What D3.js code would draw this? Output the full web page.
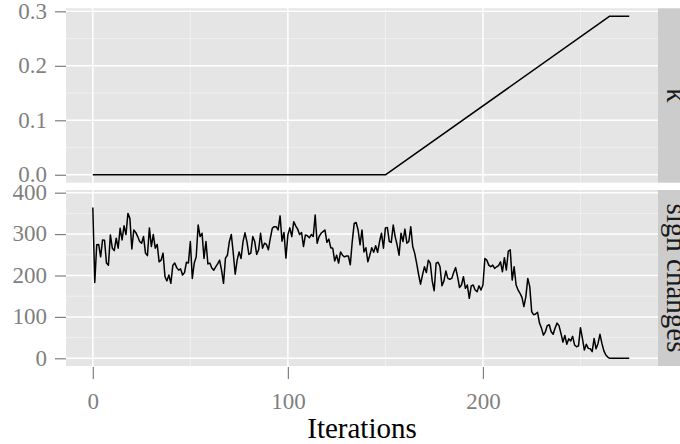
<!DOCTYPE html>
<html>
<head>
<meta charset="utf-8">
<script src="https://cdn.jsdelivr.net/npm/d3@7"></script>
<style>
  body { margin: 0; background: #fff; }
  text { font-family: "Liberation Serif", "DejaVu Serif", serif; }
</style>
</head>
<body>
<div id="container"></div>
<script>
// Data
const kappaIter = [0, 150, 265, 275];
const kappaValue = [0, 0, 0.291, 0.291];

// sign changes per iteration (index = iteration)
const signChanges = [
  364, 183, 274, 275, 245, 286, 285, 230, 225, 298,
  266, 260, 290, 266, 314, 286, 320, 299, 350, 338,
  264, 310, 304, 294, 282, 278, 294, 254, 248, 315,
  270, 299, 266, 275, 233, 237, 254, 197, 187, 201,
  181, 224, 230, 219, 213, 216, 201, 207, 232, 230,
  282, 193, 230, 245, 322, 294, 302, 241, 282, 228,
  230, 218, 213, 221, 228, 237, 213, 181, 242, 249,
  282, 299, 254, 203, 237, 257, 241, 282, 303, 282,
  251, 254, 294, 282, 251, 262, 302, 266, 278, 275,
  262, 290, 314, 318, 318, 310, 344, 283, 304, 242,
  298, 315, 294, 330, 320, 312, 299, 304, 270, 298,
  296, 291, 299, 294, 346, 278, 294, 302, 306, 310,
  280, 288, 267, 266, 235, 249, 230, 257, 249, 245,
  247, 247, 226, 282, 326, 328, 310, 274, 310, 257,
  267, 233, 249, 267, 256, 272, 256, 282, 302, 266,
  315, 316, 282, 280, 322, 294, 274, 249, 302, 282,
  312, 278, 282, 318, 270, 254, 230, 203, 179, 201,
  221, 207, 237, 230, 187, 163, 230, 232, 221, 175,
  187, 211, 193, 191, 193, 207, 219, 197, 171, 177,
  197, 169, 177, 145, 175, 177, 165, 161, 175, 165,
  177, 241, 237, 225, 221, 225, 217, 221, 224, 233,
  209, 243, 213, 259, 262, 189, 221, 177, 165, 157,
  147, 125, 149, 193, 173, 113, 105, 107, 111, 85,
  73, 56, 64, 79, 81, 64, 58, 73, 85, 79,
  60, 39, 55, 34, 47, 42, 53, 32, 28, 30,
  74, 48, 20, 34, 24, 23, 16, 48, 23, 36,
  58, 36, 18, 8, 3, 0, 0, 0, 0, 0,
  0, 0, 0, 0, 0, 0
];

const xTicks = [0, 100, 200];
const xMinor = [50, 150, 250];
const kappaTicks = [0, 0.1, 0.2, 0.3];
const kappaMinor = [0.05, 0.15, 0.25];
const signTicks = [0, 100, 200, 300, 400];
const signMinor = [50, 150, 250, 350];

const width = 680;
const height = 444;
const panelLeft = 66;
const panelRight = 658;

const svg = d3.select("#container")
  .append("svg")
  .attr("width", width)
  .attr("height", height);

const x = d3.scaleLinear()
  .domain([-13.75, 289.75])
  .range([panelLeft, panelRight]);

// Panels: one per facet
const panels = [
  {
    label: "κ",
    top: 8.3, bottom: 182.7,
    y: d3.scaleLinear().domain([-0.01455, 0.30555]).range([182.7, 8.3]),
    ticks: kappaTicks, minor: kappaMinor,
    format: d3.format(".1f"),
    points: kappaIter.map((d, i) => [d, kappaValue[i]])
  },
  {
    label: "sign changes",
    top: 190, bottom: 366,
    y: d3.scaleLinear().domain([-18.6, 406.5]).range([366, 190]),
    ticks: signTicks, minor: signMinor,
    format: d3.format("d"),
    points: signChanges.map((d, i) => [i, d])
  }
];

panels.forEach(p => {
  const g = svg.append("g");

  // background
  g.append("rect")
    .attr("x", panelLeft)
    .attr("y", p.top)
    .attr("width", panelRight - panelLeft)
    .attr("height", p.bottom - p.top)
    .attr("fill", "#e5e5e5");

  // minor grid
  g.selectAll(".minor-h")
    .data(p.minor)
    .enter()
    .append("line")
    .attr("x1", panelLeft).attr("x2", panelRight)
    .attr("y1", d => p.y(d)).attr("y2", d => p.y(d))
    .attr("stroke", "#f2f2f2")
    .attr("stroke-width", 0.8);

  g.selectAll(".minor-v")
    .data(xMinor)
    .enter()
    .append("line")
    .attr("x1", d => x(d)).attr("x2", d => x(d))
    .attr("y1", p.top).attr("y2", p.bottom)
    .attr("stroke", "#f2f2f2")
    .attr("stroke-width", 0.8);

  // major grid
  g.selectAll(".major-h")
    .data(p.ticks)
    .enter()
    .append("line")
    .attr("x1", panelLeft).attr("x2", panelRight)
    .attr("y1", d => p.y(d)).attr("y2", d => p.y(d))
    .attr("stroke", "#fff")
    .attr("stroke-width", 1.5);

  g.selectAll(".major-v")
    .data(xTicks)
    .enter()
    .append("line")
    .attr("x1", d => x(d)).attr("x2", d => x(d))
    .attr("y1", p.top).attr("y2", p.bottom)
    .attr("stroke", "#fff")
    .attr("stroke-width", 1.5);

  // the line
  g.append("path")
    .datum(p.points)
    .attr("fill", "none")
    .attr("stroke", "#000")
    .attr("stroke-width", 1.5)
    .attr("stroke-linejoin", "round")
    .attr("d", d3.line().x(d => x(d[0])).y(d => p.y(d[1])));

  // y axis
  const yAxis = d3.axisLeft(p.y)
    .tickValues(p.ticks)
    .tickFormat(p.format)
    .tickSize(11)
    .tickPadding(8);

  const ya = g.append("g")
    .attr("transform", "translate(" + panelLeft + ",0)")
    .call(yAxis);
  ya.select(".domain").remove();
  ya.selectAll("line").attr("stroke", "#7f7f7f").attr("stroke-width", 1.2);
  ya.selectAll("text")
    .attr("fill", "#7f7f7f")
    .attr("font-size", 23)
    .attr("font-family", "Liberation Serif")
    .attr("dy", "0.3em");

  // strip
  g.append("rect")
    .attr("x", panelRight)
    .attr("y", p.top)
    .attr("width", 40)
    .attr("height", p.bottom - p.top)
    .attr("fill", "#cccccc");

  g.append("text")
    .attr("transform", "translate(667," + ((p.top + p.bottom) / 2) + ") rotate(90)")
    .attr("text-anchor", "middle")
    .attr("font-size", 29)
    .attr("fill", "#1a1a1a")
    .text(p.label);
});

// x axis under the lower panel
const xAxis = d3.axisBottom(x)
  .tickValues(xTicks)
  .tickFormat(d3.format("d"))
  .tickSize(12)
  .tickPadding(14);

const xa = svg.append("g")
  .attr("transform", "translate(0,367)")
  .call(xAxis);
xa.select(".domain").remove();
xa.selectAll("line").attr("stroke", "#7f7f7f").attr("stroke-width", 1.2);
xa.selectAll("text")
  .attr("fill", "#7f7f7f")
  .attr("font-size", 23)
  .attr("font-family", "Liberation Serif");

// axis title
svg.append("text")
  .attr("x", (panelLeft + panelRight) / 2)
  .attr("y", 438)
  .attr("text-anchor", "middle")
  .attr("font-size", 29)
  .attr("fill", "#000")
  .text("Iterations");
</script>
</body>
</html>
